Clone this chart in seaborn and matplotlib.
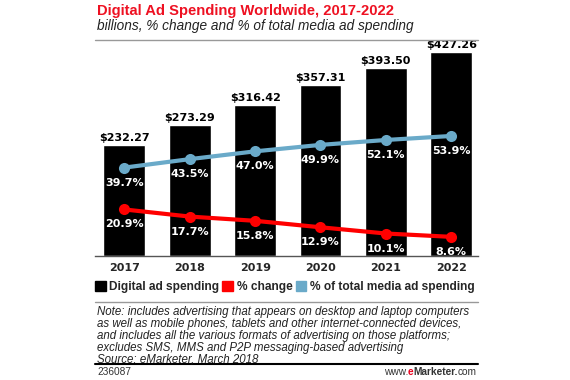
import numpy as np
import pandas as pd
import matplotlib.pyplot as plt
import matplotlib.patches as mpatches
import seaborn as sns

years = ["2017", "2018", "2019", "2020", "2021", "2022"]
spending = [232.27, 273.29, 316.42, 357.31, 393.50, 427.26]
pct_change = [20.9, 17.7, 15.8, 12.9, 10.1, 8.6]
pct_total = [39.7, 43.5, 47.0, 49.9, 52.1, 53.9]

RED = "#ff0000"
BLUE = "#6aaac9"
SANS = ["Liberation Sans", "DejaVu Sans"]

sns.set_theme(style="white")
plt.rcParams["font.family"] = ["DejaVu Sans"]

df = pd.DataFrame({"year": years, "spending": spending,
                   "change": pct_change, "total": pct_total})

fig = plt.figure(figsize=(5.7, 3.8), dpi=100)
ax = fig.add_axes([95 / 570, 1 - 256 / 380, 383 / 570, 216 / 380])

sns.barplot(data=df, x="year", y="spending", color="black", width=0.64,
            saturation=1, ax=ax)
ax.set_xlim(-0.45, 5.41)
ax.set_ylim(0, 452)
ax.set_xlabel("")
ax.set_ylabel("")
ax.set_yticks([])
for s in ["top", "right", "left"]:
    ax.spines[s].set_visible(False)
ax.spines["bottom"].set_color("#555555")
ax.spines["bottom"].set_linewidth(1)
ax.tick_params(axis="x", length=0, pad=5)
for lbl in ax.get_xticklabels():
    lbl.set_fontweight("bold")
    lbl.set_fontsize(8)

for i, v in enumerate(spending):
    ax.text(i, v + 4, f"${v:.2f}", ha="center", va="bottom",
            fontsize=8, fontweight="bold", color="black")

ax2 = ax.twinx()
xs = np.arange(len(years))
sns.lineplot(x=xs, y=pct_total, color=BLUE, lw=3, marker="o", ms=8,
             markeredgewidth=0, ax=ax2)
sns.lineplot(x=xs, y=pct_change, color=RED, lw=3, marker="o", ms=8,
             markeredgewidth=0, ax=ax2)
ax2.set_ylim(0, 97)
ax2.set_yticks([])
ax2.set_xlim(-0.45, 5.41)
for s in ["top", "right", "left", "bottom"]:
    ax2.spines[s].set_visible(False)

for i in range(len(years)):
    ax2.text(i, pct_total[i] - 4.5, f"{pct_total[i]:.1f}%", ha="center",
             va="top", fontsize=8, fontweight="bold", color="white")
    ax2.text(i, pct_change[i] - 4.5, f"{pct_change[i]:.1f}%", ha="center",
             va="top", fontsize=8, fontweight="bold", color="white")

# header
fig.text(97 / 570, 1 - 10.5 / 380, "Digital Ad Spending Worldwide, 2017-2022",
         color="#ee1122", fontsize=10.6, fontweight="bold", va="center",
         family=SANS)
fig.text(97 / 570, 1 - 26 / 380, "billions, % change and % of total media ad spending",
         fontsize=9.8, style="italic", va="center", color="#222222", family=SANS)
fig.add_artist(plt.Line2D([95 / 570, 478 / 570], [1 - 40 / 380] * 2,
                          color="#999999", lw=1))

# legend
handles = [mpatches.Patch(color="black", label="Digital ad spending"),
           mpatches.Patch(color=RED, label="% change"),
           mpatches.Patch(color=BLUE, label="% of total media ad spending")]
fig.legend(handles=handles, loc="center left", ncol=3,
           bbox_to_anchor=(95 / 570, 1 - 287 / 380), frameon=False,
           handlelength=0.9, handleheight=0.9, handletextpad=0.3,
           columnspacing=0.25, borderpad=0, borderaxespad=0,
           prop={"family": SANS, "weight": "bold", "size": 8.6})

fig.add_artist(plt.Line2D([95 / 570, 478 / 570], [1 - 302 / 380] * 2,
                          color="#999999", lw=1))

note = ("Note: includes advertising that appears on desktop and laptop computers\n"
        "as well as mobile phones, tablets and other internet-connected devices,\n"
        "and includes all the various formats of advertising on those platforms;\n"
        "excludes SMS, MMS and P2P messaging-based advertising\n"
        "Source: eMarketer, March 2018")
fig.text(97 / 570, 1 - 306.5 / 380, note, fontsize=8.3, style="italic",
         va="top", linespacing=0.97, family=SANS, color="#222222")

fig.add_artist(plt.Line2D([95 / 570, 478 / 570], [1 - 364 / 380] * 2,
                          color="black", lw=1.5))
fig.text(97 / 570, 1 - 372 / 380, "236087", fontsize=7.3, va="center",
         family=SANS, color="#333333")

# url pieces, right aligned
fig.canvas.draw()
r = fig.canvas.get_renderer()
x_right = 477
parts = [("com", "normal", "#333333"), ("Marketer.", "bold", "#333333"),
         ("e", "bold", "#e8001c"), ("www.", "normal", "#333333")]
for txt, w, c in parts:
    t = fig.text(x_right / 570, 1 - 372 / 380, txt, fontsize=7.3, va="center",
                 ha="right", fontweight=w, color=c, family=SANS)
    x_right -= t.get_window_extent(r).width

fig.savefig("out.png", dpi=100)
